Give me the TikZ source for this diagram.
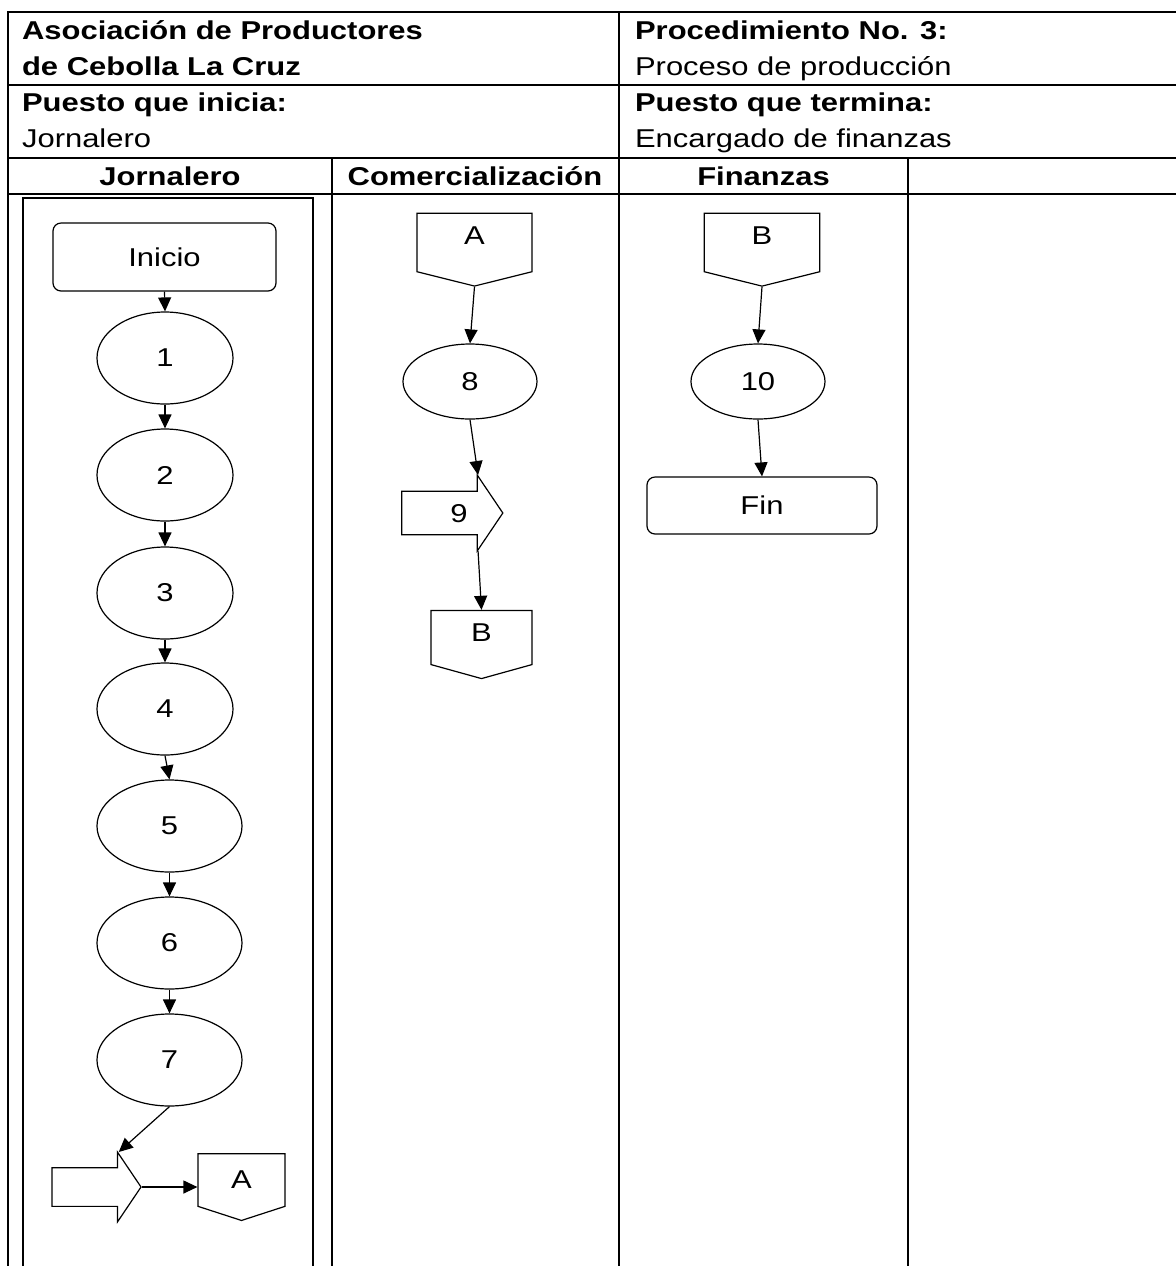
\documentclass[tikz,border=0pt]{standalone}
\usepackage{fontspec}
\setmainfont{Liberation Sans}[FakeStretch=1.2]
\usetikzlibrary{shapes.geometric,shapes.symbols,shapes.arrows,arrows.meta,calc}

\begin{document}
\begin{tikzpicture}[x=0.5pt, y=-0.5pt,
    font=\fontsize{12.9}{15}\selectfont,
    bold/.style={font=\fontsize{12.9}{15}\selectfont\bfseries},
    tabla/.style={line width=0.9pt},
    term/.style={rectangle, rounded corners=4pt, draw=black, line width=0.6pt, minimum width=111.5pt, minimum height=34pt},
    proc/.style={ellipse, draw=black, line width=0.6pt, minimum width=68pt, minimum height=46pt, inner sep=0pt},
    conn/.style={signal, signal to=south, draw=black, line width=0.6pt, inner sep=0pt, text depth=7pt},
    flecha/.style={single arrow, draw=black, line width=0.6pt, single arrow tip angle=112, inner xsep=0pt},
    arrow/.style={-{Triangle[length=7pt,width=6.5pt]}, line width=0.6pt}
]
\useasboundingbox (0,0) rectangle (1176,1266);

% TABLE
\draw[tabla] (1176,12) -- (8,12) -- (8,1266);
\draw[tabla] (8,85) -- (1176,85);
\draw[tabla] (8,158) -- (1176,158);
\draw[tabla] (8,194) -- (1176,194);
\draw[tabla] (619,12) -- (619,1266);
\draw[tabla] (332,158) -- (332,1266);
\draw[tabla] (908,158) -- (908,1266);
\draw[tabla] (23,1266) -- (23,198) -- (313,198) -- (313,1266);

% Header
\node[anchor=base west, bold] (asoc) at (15,39) {Asociación de Productores};
\node[anchor=base west, bold] (cebolla) at (15,75) {de Cebolla La Cruz};
\node[anchor=base west, bold] (inicia) at (15,111) {Puesto que inicia:};
\node[anchor=base west] (jornalero) at (15,147) {Jornalero};
\node[anchor=base west, bold] (proced) at (628,39) {Procedimiento No. 3:};
\node[anchor=base west] (proceso) at (628,75) {Proceso de producción};
\node[anchor=base west, bold] (termina) at (628,111) {Puesto que termina:};
\node[anchor=base west] (encargado) at (628,147) {Encargado de finanzas};

% Column titles
\node[anchor=base, bold] (colJor) at (170,185) {Jornalero};
\node[anchor=base, bold] (colCom) at (475,185) {Comercialización};
\node[anchor=base, bold] (colFin) at (763.5,185) {Finanzas};

% Jornalero
\node[term] (inicio) at (164.5,257) {Inicio};
\node[proc] (p1) at (165,358) {1};
\node[proc] (p2) at (165,475) {2};
\node[proc] (p3) at (165,593) {3};
\node[proc] (p4) at (165,709) {4};
\node[proc, minimum width=72.5pt] (p5) at (169.5,826) {5};
\node[proc, minimum width=72.5pt] (p6) at (169.5,943) {6};
\node[proc, minimum width=72.5pt] (p7) at (169.5,1060) {7};
\node[flecha, minimum width=35pt, minimum height=44.5pt, inner ysep=8.5pt] (envA) at (90,1187) {};
\node[conn, minimum width=43.5pt, minimum height=28pt, signal pointer angle=144, text depth=0pt] (conA1) at (241.5,1180) {A};

% Comercializacion
\node[conn, minimum width=57.5pt, minimum height=30.5pt, signal pointer angle=152] (conA2) at (474.5,242.5) {A};
\node[proc, minimum width=67pt, minimum height=37.5pt] (p8) at (470,381.5) {8};
\node[flecha, minimum width=38pt, minimum height=50.5pt, text height=9.2pt, text depth=0pt, inner ysep=4.6pt] (p9) at (445,513) {\hspace*{14pt}9};
\node[conn, minimum width=50.5pt, minimum height=28.5pt, signal pointer angle=149, text depth=4.5pt] (conB1) at (481.5,637.5) {B};

% Finanzas
\node[conn, minimum width=57.75pt, minimum height=30.5pt, signal pointer angle=152] (conB2) at (762,242.5) {B};
\node[proc, minimum width=67pt, minimum height=37.5pt] (p10) at (758,381.5) {10};
\node[term, minimum width=115pt, minimum height=28.5pt] (fin) at (762,505.5) {Fin};

% Arrows
\draw[arrow] (inicio.south) -- (p1.north);
\foreach \a/\b in {p1/p2, p2/p3, p3/p4, p4/p5, p5/p6, p6/p7}
    \draw[arrow] (\a.south) -- (\b.north);
\draw[arrow] (p7.south) -- ($(envA.tip)+(-23,-35)$);
\draw[arrow] (envA.tip) -- (envA.tip -| conA1.west);
\draw[arrow] (conA2.south) -- (p8.north);
\draw[arrow] (p8.south) -- ($(p9.tip)+(-25.5,-38)$);
\draw[arrow] ($(p9.tip)+(-25.5,38)$) -- (conB1.north);
\draw[arrow] (conB2.south) -- (p10.north);
\draw[arrow] (p10.south) -- (fin.north);

\end{tikzpicture}
\end{document}
